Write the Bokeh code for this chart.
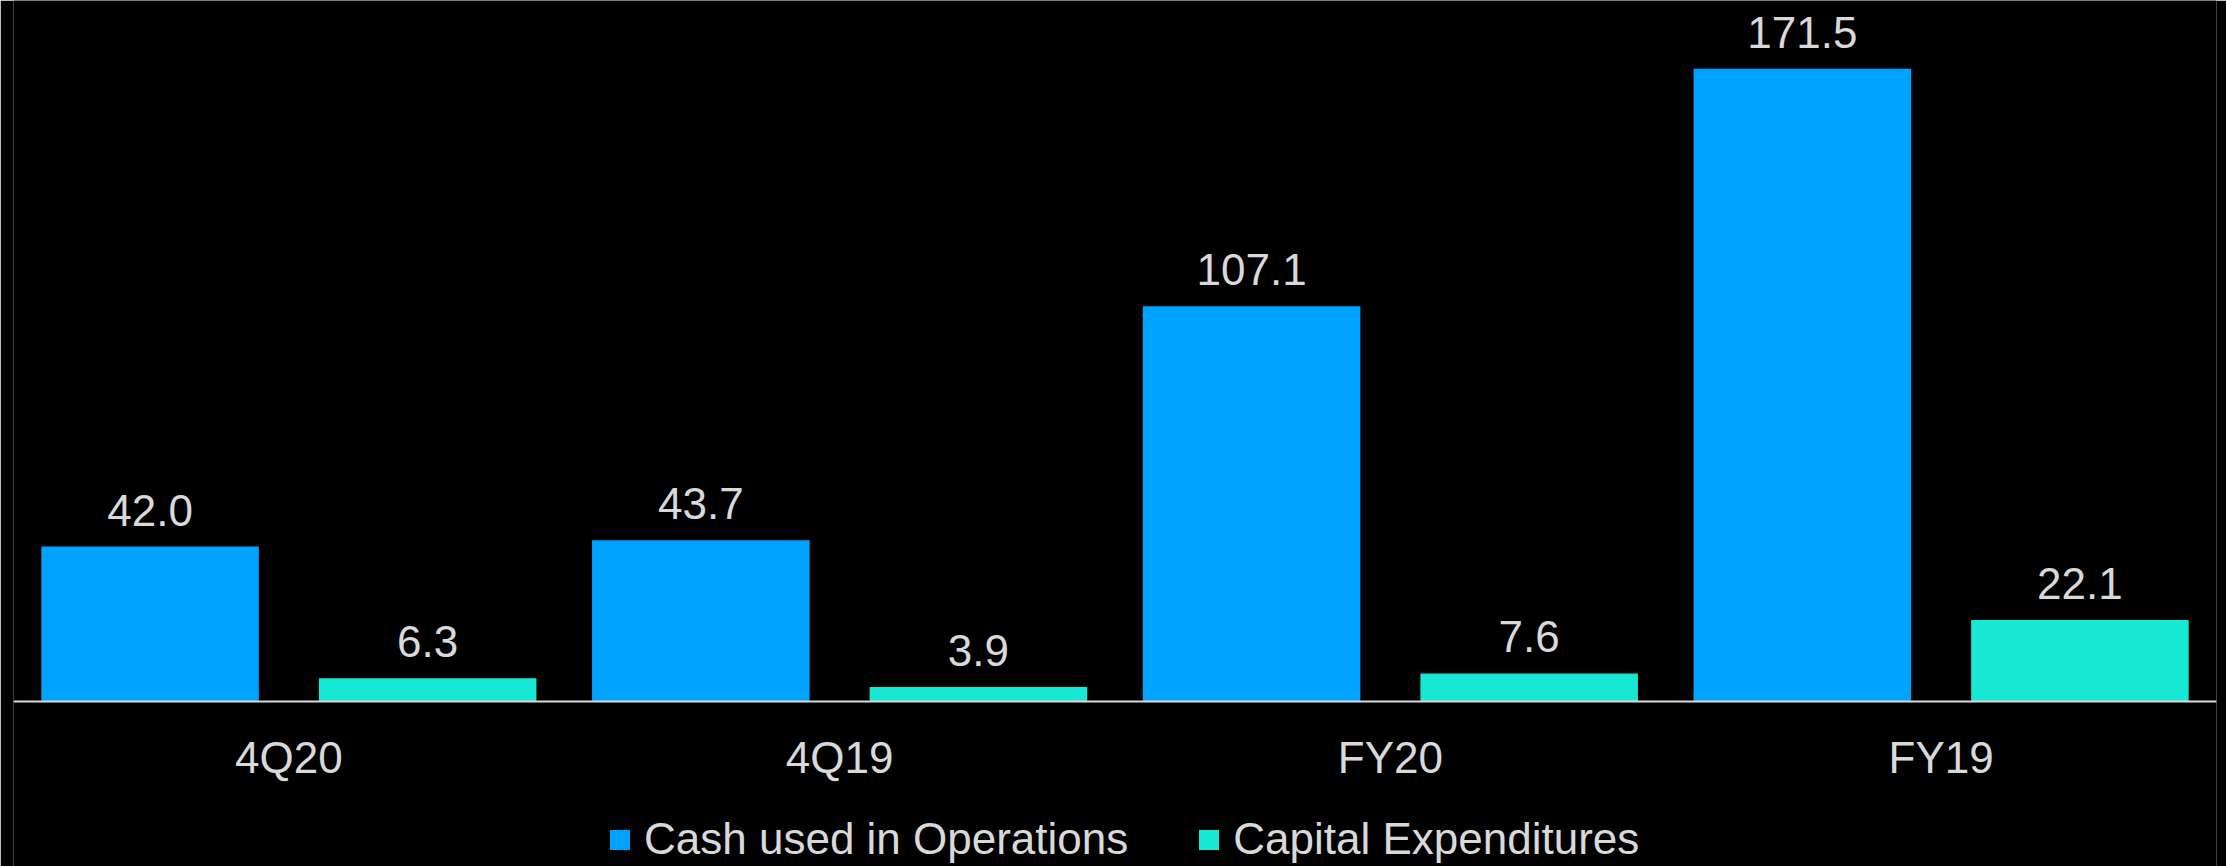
from bokeh.plotting import figure
from bokeh.models import (FactorRange, Range1d, ColumnDataSource, Legend, LegendItem,
                          LabelSet)
from bokeh.transform import dodge
from bokeh.core.properties import value
from bokeh.embed import file_html
from bokeh.resources import INLINE

categories = ["4Q20", "4Q19", "FY20", "FY19"]
cash_ops = [42.0, 43.7, 107.1, 171.5]
capex = [6.3, 3.9, 7.6, 22.1]
series_names = ["Cash used in Operations", "Capital Expenditures"]

BLUE = "#00A2FF"
TEAL = "#17E8D3"
TXT = "#D9D9D9"
FONT = "'Liberation Sans Narrow', 'Arial Narrow', 'Liberation Sans', Arial, sans-serif"
FS = "44px"

src = ColumnDataSource(dict(
    cat=categories,
    cash=cash_ops,
    capex=capex,
    cash_lbl=[f"{v:.1f}" for v in cash_ops],
    capex_lbl=[f"{v:.1f}" for v in capex],
))

p = figure(
    width=2226, height=866,
    x_range=FactorRange(factors=categories, range_padding=0),
    y_range=Range1d(-44.72, 189.97),
    output_backend="svg", toolbar_location=None,
    y_axis_location=None,
    min_border_left=13, min_border_right=10, min_border_top=0, min_border_bottom=0,
    background_fill_color="black", border_fill_color="black",
    outline_line_color=None,
)
p.grid.visible = False

off = 0.252
w = 0.395
r1 = p.vbar(x=dodge("cat", -off, range=p.x_range), top="cash", width=w, bottom=0,
            source=src, fill_color=BLUE, line_color=None)
r2 = p.vbar(x=dodge("cat", off, range=p.x_range), top="capex", width=w, bottom=0,
            source=src, fill_color=TEAL, line_color=None)

for xcol, ycol, tcol, dx in [("cat", "cash", "cash_lbl", -off), ("cat", "capex", "capex_lbl", off)]:
    p.add_layout(LabelSet(
        x=dodge(xcol, dx, range=p.x_range), y=ycol, text=tcol, source=src,
        y_offset=21, text_align="center", text_baseline="alphabetic",
        text_color=TXT, text_font=value(FONT), text_font_size=value(FS)))

ax = p.xaxis[0]
ax.fixed_location = 0
ax.axis_line_color = TXT
ax.axis_line_width = 2
ax.major_tick_line_color = None
ax.minor_tick_line_color = None
ax.major_label_text_color = TXT
ax.major_label_text_font = FONT
ax.major_label_text_font_size = FS
ax.major_label_standoff = 26

legend = Legend(
    items=[LegendItem(label=series_names[0], renderers=[r1]),
           LegendItem(label=series_names[1], renderers=[r2])],
    location=(594, 2), orientation="horizontal",
    background_fill_alpha=0, border_line_color=None,
    glyph_width=25, glyph_height=25, label_standoff=12, spacing=68,
    padding=0, margin=0,
    label_text_color=TXT, label_text_font=FONT, label_text_font_size=FS,
)
p.add_layout(legend, "center")

open("out.html", "w").write(file_html(p, INLINE))
